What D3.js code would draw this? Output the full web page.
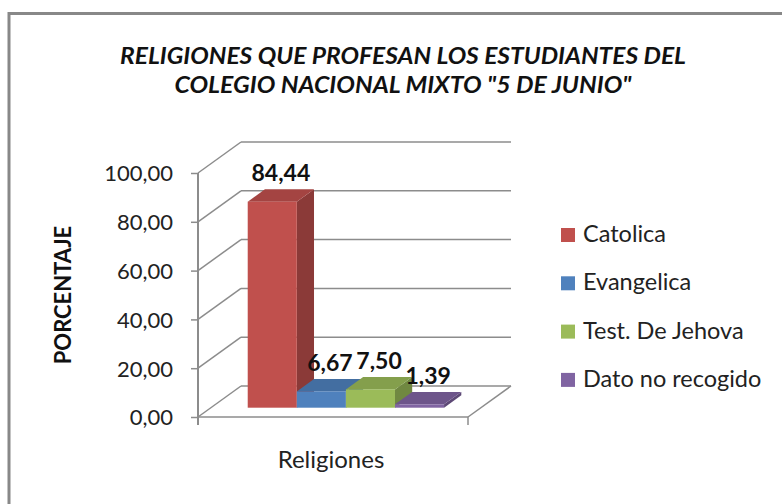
<!DOCTYPE html>
<html>
<head>
<meta charset="utf-8">
<script src="https://cdn.jsdelivr.net/npm/d3@7"></script>
<style>
  body { margin: 0; background: #fff; }
  svg { display: block; }
</style>
</head>
<body>
<div id="chart"></div>
<script>
// Chart data
const series = ["Catolica", "Evangelica", "Test. De Jehova", "Dato no recogido"];
const values = [84.44, 6.67, 7.50, 1.39];
const colors = ["#C0504D", "#4F81BD", "#9BBB59", "#8064A2"];
const yTicks = [0, 20, 40, 60, 80, 100];
const category = "Religiones";
const titleLines = ["RELIGIONES QUE PROFESAN LOS ESTUDIANTES DEL", "COLEGIO NACIONAL MIXTO \"5 DE JUNIO\""];
const titleWidths = [566, 457];

const W = 782, H = 504;
const font = "Lato, 'Open Sans', sans-serif";
const fmt = v => d3.format(".2f")(v).replace(".", ",");

const svg = d3.select("#chart").append("svg")
    .attr("width", W)
    .attr("height", H);

// Chart frame (only top and left edges show in the picture)
svg.append("rect")
    .attr("x", 9).attr("y", 13.5)
    .attr("width", 800).attr("height", 600)
    .attr("fill", "#fff")
    .attr("stroke", "#888")
    .attr("stroke-width", 3);

// Front plane scales, plus the oblique depth vector
const y = d3.scaleLinear().domain([0, 100]).range([417, 173]);
const x = d3.scaleBand().domain(series).range([198, 468]).paddingInner(0).paddingOuter(0.75);
const depth = { dx: 43, dy: -31 };
const f0 = 0.3, f1 = 0.7; // bar depth span inside the floor

const grid = svg.append("g")
    .attr("stroke", "#8c8c8c")
    .attr("stroke-width", 1.5)
    .attr("fill", "none");

// Back wall gridlines
grid.selectAll("line.back").data(yTicks).enter().append("line")
    .attr("x1", x.range()[0] + depth.dx)
    .attr("x2", x.range()[1] + depth.dx)
    .attr("y1", d => y(d) + depth.dy)
    .attr("y2", d => y(d) + depth.dy);

// Side wall diagonals
grid.selectAll("line.side").data(yTicks).enter().append("line")
    .attr("x1", x.range()[0])
    .attr("x2", x.range()[0] + depth.dx)
    .attr("y1", d => y(d))
    .attr("y2", d => y(d) + depth.dy);

// Floor front and right edges
grid.append("line")
    .attr("x1", x.range()[0]).attr("x2", x.range()[1])
    .attr("y1", y(0)).attr("y2", y(0));
grid.append("line")
    .attr("x1", x.range()[1]).attr("x2", x.range()[1] + depth.dx)
    .attr("y1", y(0)).attr("y2", y(0) + depth.dy);
grid.append("line")
    .attr("x1", x.range()[1]).attr("x2", x.range()[1])
    .attr("y1", y(0)).attr("y2", y(0) + 8);

// Value axis
const yAxis = svg.append("g")
    .attr("transform", `translate(${x.range()[0]},0)`)
    .call(d3.axisLeft(y).tickValues(yTicks).tickSize(7).tickPadding(18).tickFormat(fmt));
yAxis.select(".domain")
    .attr("d", `M0,${y(100)}V${y(0) + 8}`)
    .attr("stroke", "#8c8c8c")
    .attr("stroke-width", 2);
yAxis.selectAll(".tick line").attr("stroke", "#8c8c8c").attr("stroke-width", 1.5);
yAxis.selectAll(".tick text")
    .attr("font-family", font)
    .attr("font-size", 22)
    .attr("fill", "#222")
    .attr("dy", "0.36em");

// 3D bars
const bw = x.bandwidth();
const bars = svg.append("g").selectAll("g").data(series).enter().append("g");

const pt = (px, py) => `${px},${py}`;
bars.each(function(s, i) {
    const g = d3.select(this);
    const c = d3.color(colors[i]);
    const xl = x(s) + depth.dx * f0, xr = xl + bw;
    const yb = y(0) + depth.dy * f0, yt = y(values[i]) + depth.dy * f0;
    const ddx = depth.dx * (f1 - f0), ddy = depth.dy * (f1 - f0);
    // right side
    g.append("polygon")
        .attr("points", [pt(xr, yb), pt(xr + ddx, yb + ddy), pt(xr + ddx, yt + ddy), pt(xr, yt)].join(" "))
        .attr("fill", c.darker(0.9));
    // top
    g.append("polygon")
        .attr("points", [pt(xl, yt), pt(xr, yt), pt(xr + ddx, yt + ddy), pt(xl + ddx, yt + ddy)].join(" "))
        .attr("fill", c.darker(0.45));
    // front
    g.append("rect")
        .attr("x", xl).attr("y", yt)
        .attr("width", bw).attr("height", yb - yt)
        .attr("fill", c);
});

// Data labels
svg.append("g").selectAll("text").data(series).enter().append("text")
    .attr("x", (s) => x(s) + bw / 2 + depth.dx * (f0 + f1) / 2)
    .attr("y", (s, i) => y(values[i]) + depth.dy * f1 - 8)
    .attr("text-anchor", "middle")
    .attr("font-family", font)
    .attr("font-weight", "bold")
    .attr("font-size", 23)
    .attr("fill", "#111")
    .text((s, i) => fmt(values[i]));

// Title
svg.append("g").selectAll("text").data(titleLines).enter().append("text")
    .attr("x", 403)
    .attr("y", (d, i) => 64 + i * 29)
    .attr("text-anchor", "middle")
    .attr("font-family", font)
    .attr("font-weight", "bold")
    .attr("font-style", "italic")
    .attr("font-size", 22)
    .attr("textLength", (d, i) => titleWidths[i])
    .attr("lengthAdjust", "spacingAndGlyphs")
    .attr("fill", "#111")
    .text(d => d);

// Axis titles
svg.append("text")
    .attr("transform", "translate(71,295) rotate(-90)")
    .attr("text-anchor", "middle")
    .attr("font-family", font)
    .attr("font-weight", "bold")
    .attr("font-size", 22)
    .attr("fill", "#111")
    .text("PORCENTAJE");

svg.append("text")
    .attr("x", 331)
    .attr("y", 468)
    .attr("text-anchor", "middle")
    .attr("font-family", font)
    .attr("font-size", 24)
    .attr("fill", "#222")
    .text(category);

// Legend
const legend = svg.append("g").attr("transform", "translate(561,228)");
const row = legend.selectAll("g").data(series).enter().append("g")
    .attr("transform", (d, i) => `translate(0,${i * 48.3})`);
row.append("rect")
    .attr("width", 14).attr("height", 14)
    .attr("fill", (d, i) => colors[i]);
row.append("text")
    .attr("x", 22).attr("y", 14)
    .attr("font-family", font)
    .attr("font-size", 23.5)
    .attr("fill", "#222")
    .text(d => d);
</script>
</body>
</html>
